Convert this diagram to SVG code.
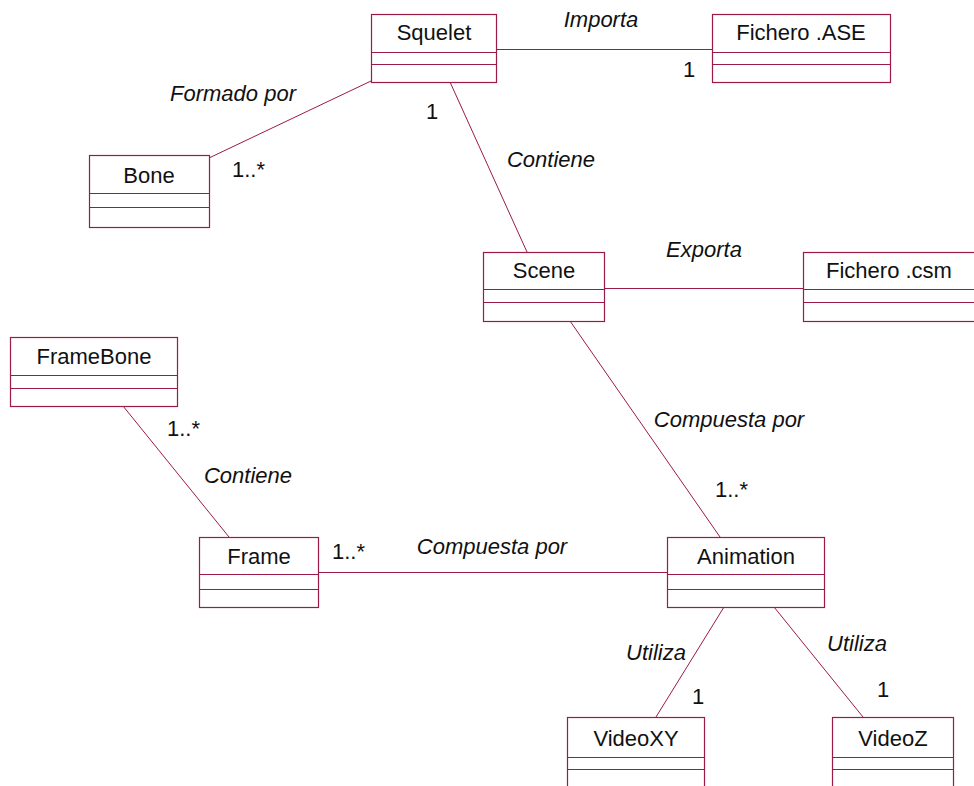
<svg xmlns="http://www.w3.org/2000/svg" width="974" height="786" viewBox="0 0 974 786">
  <style>
    .box { fill: #ffffff; stroke: #9c1a4a; stroke-width: 1.2; }
    .div { stroke: #9c1a4a; stroke-width: 1.2; }
    .conn { stroke: #9c1a4a; stroke-width: 1; fill: none; }
    .name { font-family: "Liberation Sans", Arial, sans-serif; font-size: 22px; fill: #111111; text-anchor: middle; }
    .role { font-family: "Liberation Sans", Arial, sans-serif; font-size: 22px; font-style: italic; fill: #111111; text-anchor: middle; }
    .mult { font-family: "Liberation Sans", Arial, sans-serif; font-size: 22px; fill: #111111; }
  </style>

  <!-- associations -->
  <g id="connectors">
    <line class="conn" x1="496" y1="49.5" x2="712" y2="49.5"/>
    <line class="conn" x1="371" y1="81" x2="209" y2="158"/>
    <line class="conn" x1="450" y1="82" x2="527" y2="252"/>
    <line class="conn" x1="604" y1="288.5" x2="803" y2="288.5"/>
    <line class="conn" x1="570" y1="321" x2="720" y2="537"/>
    <line class="conn" x1="123" y1="406" x2="229" y2="537"/>
    <line class="conn" x1="318" y1="572.5" x2="667" y2="572.5"/>
    <line class="conn" x1="724" y1="607" x2="656" y2="717"/>
    <line class="conn" x1="774" y1="607" x2="863" y2="717"/>

    <text class="role" x="601" y="27">Importa</text>
    <text class="mult" x="683" y="77">1</text>

    <text class="role" x="233" y="101">Formado por</text>
    <text class="mult" x="232" y="177">1..*</text>

    <text class="mult" x="426" y="119">1</text>
    <text class="role" x="551" y="167">Contiene</text>

    <text class="role" x="704" y="257">Exporta</text>

    <text class="role" x="729" y="427">Compuesta por</text>
    <text class="mult" x="715" y="497">1..*</text>

    <text class="mult" x="167" y="436">1..*</text>
    <text class="role" x="248" y="483">Contiene</text>

    <text class="mult" x="332" y="559">1..*</text>
    <text class="role" x="492" y="554">Compuesta por</text>

    <text class="role" x="656" y="660">Utiliza</text>
    <text class="mult" x="692" y="704">1</text>

    <text class="role" x="857" y="651">Utiliza</text>
    <text class="mult" x="877" y="697">1</text>
  </g>

  <!-- classes -->
  <g id="squelet">
    <rect class="box" x="371.5" y="14.5" width="125" height="68"/>
    <line class="div" x1="371.5" y1="52.5" x2="496.5" y2="52.5"/>
    <line class="div" x1="371.5" y1="64.5" x2="496.5" y2="64.5"/>
    <text class="name" x="434" y="40">Squelet</text>
  </g>

  <g id="fichero-ase">
    <rect class="box" x="712.5" y="14.5" width="178" height="68"/>
    <line class="div" x1="712.5" y1="52.5" x2="890.5" y2="52.5"/>
    <line class="div" x1="712.5" y1="64.5" x2="890.5" y2="64.5"/>
    <text class="name" x="801" y="40">Fichero .ASE</text>
  </g>

  <g id="bone">
    <rect class="box" x="89.5" y="155.5" width="120" height="72"/>
    <line class="div" x1="89.5" y1="193.5" x2="209.5" y2="193.5"/>
    <line class="div" x1="89.5" y1="207.5" x2="209.5" y2="207.5"/>
    <text class="name" x="149" y="183">Bone</text>
  </g>

  <g id="scene">
    <rect class="box" x="483.5" y="252.5" width="121" height="69"/>
    <line class="div" x1="483.5" y1="289.5" x2="604.5" y2="289.5"/>
    <line class="div" x1="483.5" y1="302.5" x2="604.5" y2="302.5"/>
    <text class="name" x="544" y="278">Scene</text>
  </g>

  <g id="fichero-csm">
    <rect class="box" x="803.5" y="252.5" width="180" height="69"/>
    <line class="div" x1="803.5" y1="289.5" x2="983.5" y2="289.5"/>
    <line class="div" x1="803.5" y1="302.5" x2="983.5" y2="302.5"/>
    <text class="name" x="889" y="278">Fichero .csm</text>
  </g>

  <g id="framebone">
    <rect class="box" x="10.5" y="337.5" width="167" height="69"/>
    <line class="div" x1="10.5" y1="375.5" x2="177.5" y2="375.5"/>
    <line class="div" x1="10.5" y1="388.5" x2="177.5" y2="388.5"/>
    <text class="name" x="94" y="364">FrameBone</text>
  </g>

  <g id="frame">
    <rect class="box" x="199.5" y="537.5" width="119" height="70"/>
    <line class="div" x1="199.5" y1="574.5" x2="318.5" y2="574.5"/>
    <line class="div" x1="199.5" y1="589.5" x2="318.5" y2="589.5"/>
    <text class="name" x="259" y="564">Frame</text>
  </g>

  <g id="animation">
    <rect class="box" x="667.5" y="537.5" width="157" height="70"/>
    <line class="div" x1="667.5" y1="574.5" x2="824.5" y2="574.5"/>
    <line class="div" x1="667.5" y1="589.5" x2="824.5" y2="589.5"/>
    <text class="name" x="746" y="564">Animation</text>
  </g>

  <g id="videoxy">
    <rect class="box" x="567.5" y="717.5" width="137" height="80"/>
    <line class="div" x1="567.5" y1="757.5" x2="704.5" y2="757.5"/>
    <line class="div" x1="567.5" y1="769.5" x2="704.5" y2="769.5"/>
    <text class="name" x="636" y="746">VideoXY</text>
  </g>

  <g id="videoz">
    <rect class="box" x="832.5" y="717.5" width="121" height="80"/>
    <line class="div" x1="832.5" y1="757.5" x2="953.5" y2="757.5"/>
    <line class="div" x1="832.5" y1="769.5" x2="953.5" y2="769.5"/>
    <text class="name" x="893" y="746">VideoZ</text>
  </g>
</svg>
